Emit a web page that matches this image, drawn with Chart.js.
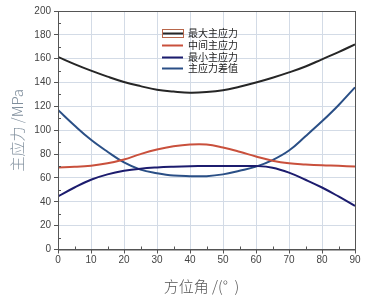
<!DOCTYPE html>
<html><head><meta charset="utf-8">
<script src="https://cdn.jsdelivr.net/npm/chart.js@4/dist/chart.umd.min.js"></script>
<style>html,body{margin:0;padding:0;background:#fff}#w{position:relative;width:374px;height:295px}</style>
</head><body><div id="w"><canvas id="c" width="374" height="295"></canvas></div>
<script>
const angles = [0,5,10,15,20,25,30,35,40,45,50,55,60,65,70,75,80,85,90];
const maxStress = [161.5,155.5,150,145,140.5,137,134,132.5,131.5,132,133.5,136.5,140,144,148.5,153.5,159.5,165.5,172];
const midStress = [68.8,69.3,70.3,72.3,75.5,80,83.8,86.5,88,88,85.5,82,78,74.5,72.3,71.3,70.6,70.2,69.6];
const minStress = [44.5,52,58.5,63,66,67.8,68.8,69.4,69.8,70,70,70,70,68.6,64.5,58.5,52,44.5,36.5];
const diffStress = [117,104,92,82,73,67,64,62,61.5,61.5,63,66,69.5,75,83,95,107.5,121,136];
const seriesNames = ['最大主应力','中间主应力','最小主应力','主应力差值'];
const xTicks = [0,10,20,30,40,50,60,70,80,90];
const yTicks = [0,20,40,60,80,100,120,140,160,180,200];
const colors = ['#262626','#c9503c','#1c1c6e','#2a4f86'];

const mk = (arr) => angles.map((a,i)=>({x:a,y:arr[i]}));
const sets = [maxStress, midStress, minStress, diffStress].map((arr,i)=>({
  label: seriesNames[i], data: mk(arr), borderColor: colors[i], backgroundColor: colors[i],
  borderWidth: 2, pointRadius: 0, tension: 0.4, fill:false
}));

const framePlugin = {
  id:'frame',
  afterDraw(chart){
    const {ctx, chartArea:a, scales} = chart;
    ctx.save();
    ctx.strokeStyle = '#555'; ctx.lineWidth = 1;
    ctx.strokeRect(a.left+0.5, a.top+0.5, a.right-a.left, a.bottom-a.top);
    ctx.beginPath();
    for (let v=5; v<90; v+=10){ const x=Math.round(scales.x.getPixelForValue(v))+0.5; ctx.moveTo(x,a.bottom); ctx.lineTo(x,a.bottom-3); }
    for (let v=10; v<200; v+=20){ const y=Math.round(scales.y.getPixelForValue(v))+0.5; ctx.moveTo(a.left,y); ctx.lineTo(a.left+3,y); }
    ctx.stroke();
    const lx = 162, ly0 = 33, dy = 11.8;
    ctx.font = '10px "Noto Sans CJK SC"';
    ctx.textBaseline = 'middle';
    chart.data.datasets.forEach((ds,i)=>{
      const y = Math.round(ly0 + i*dy)+0.5;
      ctx.strokeStyle = ds.borderColor; ctx.lineWidth = 2;
      ctx.beginPath(); ctx.moveTo(lx, y); ctx.lineTo(lx+21, y); ctx.stroke();
      if (i===0){ ctx.strokeStyle='#b8664a'; ctx.lineWidth=1; ctx.strokeRect(lx+0.5, y-4, 21, 8); }
      ctx.fillStyle = '#222';
      ctx.fillText(ds.label, lx+26, y);
    });
    ctx.restore();
  }
};

new Chart(document.getElementById('c'), {
  type:'line',
  data:{ datasets: sets },
  options:{
    responsive:false, animation:false, devicePixelRatio:1,
    layout:{ padding:{ top:11, right:19, left:0, bottom:0 } },
    plugins:{ legend:{display:false}, tooltip:{enabled:false} },
    scales:{
      x:{ type:'linear', min:0, max:90,
        afterBuildTicks(s){ s.ticks = xTicks.map(v=>({value:v})); },
        afterFit(s){ s.height = 45.5; },
        grid:{ color:'#d3dbe6', lineWidth:1, drawTicks:true, tickLength:4, tickColor:'#555' },
        border:{ display:true, color:'#555' },
        ticks:{ color:'#444', font:{ family:'"Liberation Sans", Arial', size:10 }, padding:1, maxRotation:0 },
        title:{ display:true, text:'方位角 /(°  )   ', color:'#555', font:{ family:'"Noto Sans CJK SC"', size:15, weight:'300' }, padding:{top:0, bottom:0} }
      },
      y:{ type:'linear', min:0, max:200,
        afterBuildTicks(s){ s.ticks = yTicks.map(v=>({value:v})); },
        afterFit(s){ s.width = 58; },
        grid:{ color:'#d3dbe6', lineWidth:1, drawTicks:true, tickLength:4, tickColor:'#555' },
        border:{ display:true, color:'#555' },
        ticks:{ color:'#444', font:{ family:'"Liberation Sans", Arial', size:10 }, padding:3 },
        title:{ display:true, text:'主应力 /MPa', color:'#7f8e9c', font:{ family:'"Noto Sans CJK SC"', size:15, weight:'300' }, padding:{top:8, bottom:0} }
      }
    }
  },
  plugins:[framePlugin]
});
</script></body></html>
